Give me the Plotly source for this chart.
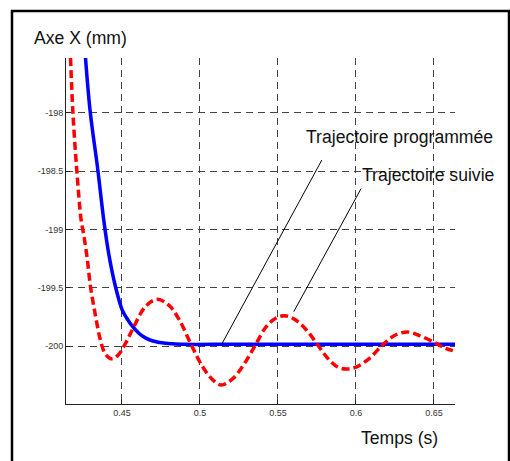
import plotly.graph_objects as go

# Data
t_prog = [0.4266, 0.4296, 0.4345, 0.4383, 0.4415, 0.4458, 0.4501, 0.4530, 0.4555, 0.4608,
          0.4650, 0.4694, 0.4779, 0.4886, 0.5200, 0.5600, 0.6000, 0.6400, 0.6635]
x_prog = [-197.53, -197.99, -198.49, -198.92, -199.21, -199.49, -199.69, -199.76, -199.81, -199.89,
          -199.93, -199.955, -199.977, -199.985, -199.985, -199.985, -199.985, -199.985, -199.985]

t_suiv = [0.4170, 0.4185, 0.4210, 0.4238, 0.4255, 0.4277, 0.4298, 0.4330, 0.4362, 0.4394,
          0.4437, 0.4480, 0.4533, 0.4576, 0.4651, 0.4726, 0.4800, 0.4869, 0.4944, 0.5018,
          0.5082, 0.5136, 0.5210, 0.5285, 0.5356, 0.5424, 0.5488, 0.5542, 0.5606, 0.5681,
          0.5749, 0.5819, 0.5883, 0.5937, 0.6001, 0.6087, 0.6172, 0.6247, 0.6332, 0.6407,
          0.6503, 0.6567, 0.6621]
x_suiv = [-197.53, -197.99, -198.49, -198.92, -199.05, -199.25, -199.49, -199.74, -199.95, -200.07,
          -200.11, -200.07, -199.95, -199.835, -199.66, -199.60, -199.65, -199.78, -199.99, -200.18,
          -200.29, -200.334, -200.28, -200.15, -199.99, -199.835, -199.76, -199.74, -199.77, -199.86,
          -199.98, -200.105, -200.18, -200.197, -200.18, -200.105, -199.99, -199.91, -199.88, -199.91,
          -199.97, -200.015, -200.04]

x_ticks = [0.45, 0.5, 0.55, 0.6, 0.65]
x_ticklabels = ["0.45", "0.5", "0.55", "0.6", "0.65"]
y_ticks = [-198, -198.5, -199, -199.5, -200]
y_ticklabels = ["-198", "-198.5", "-199", "-199.5", "-200"]

x_range = [0.4141, 0.6635]
y_range = [-200.497, -197.531]

# annotation pointer lines (data coordinates: curve point -> label end)
ptr_prog = dict(t0=0.5139, y0=-199.985, t1=0.5781, y1=-198.406)
ptr_suiv = dict(t0=0.5601, y0=-199.706, t1=0.6033, y1=-198.65)

FONT = "Liberation Sans, Arial, sans-serif"
TSIZE = 17.6

fig = go.Figure()
fig.add_trace(go.Scatter(x=t_prog, y=x_prog, mode="lines", name="Trajectoire programmée",
                         line=dict(color="#0000ff", width=3.5, shape="spline", smoothing=1.0)))
fig.add_trace(go.Scatter(x=t_suiv, y=x_suiv, mode="lines", name="Trajectoire suivie",
                         line=dict(color="#ff0000", width=3.5, dash="8px,4px", shape="spline", smoothing=1.0)))

for p in (ptr_prog, ptr_suiv):
    fig.add_shape(type="line", xref="x", yref="y", x0=p["t0"], y0=p["y0"], x1=p["t1"], y1=p["y1"],
                  line=dict(color="black", width=1))

fig.add_annotation(x=0.5670, y=-198.207, xref="x", yref="y", text="Trajectoire programmée",
                   showarrow=False, xanchor="left", yanchor="middle",
                   font=dict(family=FONT, size=TSIZE, color="#111"))
fig.add_annotation(x=0.6029, y=-198.535, xref="x", yref="y", text="Trajectoire suivie",
                   showarrow=False, xanchor="left", yanchor="middle",
                   font=dict(family=FONT, size=TSIZE, color="#111"))

# axis titles (placed like the MATLAB figure)
fig.add_annotation(x=(32.3 - 66) / 389, y=(404 - 38.3) / 346, xref="paper", yref="paper",
                   text="Axe X (mm)", showarrow=False, xanchor="left", yanchor="middle",
                   font=dict(family=FONT, size=TSIZE, color="#111"))
fig.add_annotation(x=(359.3 - 66) / 389, y=(404 - 438) / 346, xref="paper", yref="paper",
                   text="Temps (s)", showarrow=False, xanchor="left", yanchor="middle",
                   font=dict(family=FONT, size=TSIZE, color="#111"))

# outer frame (left, top and right edges)
fx = (12 - 66) / 389
fy = (404 - 11) / 346
fx_r = (509 - 66) / 389
fy_end = (404 - 470) / 346
fig.add_shape(type="path", xref="paper", yref="paper",
              path=f"M {fx},{fy_end} L {fx},{fy} L {fx_r},{fy} L {fx_r},{fy_end}",
              line=dict(color="black", width=2.5))

fig.update_layout(
    width=510, height=461,
    margin=dict(l=66, r=55, t=58, b=57),
    paper_bgcolor="white", plot_bgcolor="white",
    showlegend=False,
    font=dict(family=FONT, size=9, color="#333"),
)
fig.update_xaxes(range=x_range, tickvals=x_ticks, ticktext=x_ticklabels,
                 showline=True, linecolor="#222", linewidth=1, mirror=False,
                 ticks="inside", ticklen=4, tickcolor="#222",
                 showgrid=True, gridcolor="#444", gridwidth=1, griddash="7px,5px",
                 zeroline=False, tickfont=dict(size=9, color="#333"))
fig.update_yaxes(range=y_range, tickvals=y_ticks, ticktext=y_ticklabels,
                 showline=True, linecolor="#222", linewidth=1, mirror=False,
                 ticks="inside", ticklen=4, tickcolor="#222",
                 showgrid=True, gridcolor="#444", gridwidth=1, griddash="7px,5px",
                 zeroline=False, tickfont=dict(size=9, color="#333"))

fig.write_html(
    "out.html",
    config={"displayModeBar": False},
    post_script="document.body.style.margin='0';document.body.style.overflow='hidden';",
)
